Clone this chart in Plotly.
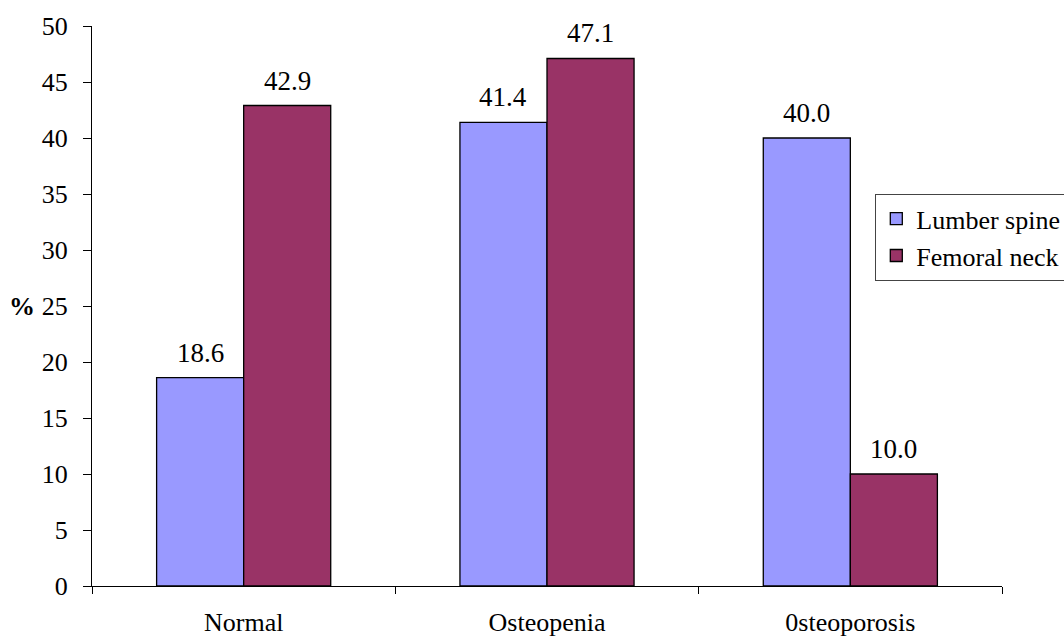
import plotly.graph_objects as go

# Bone density classification by measurement site
categories = ["Normal", "Osteopenia", "0steoporosis"]
lumber_spine = [18.6, 41.4, 40.0]
femoral_neck = [42.9, 47.1, 10.0]
series_names = ["Lumber spine", "Femoral neck"]
series_colors = ["#9999FF", "#993366"]
y_ticks = [0, 5, 10, 15, 20, 25, 30, 35, 40, 45, 50]

W, H = 1064, 638
M_L, M_R, M_T, M_B = 92, 62, 26, 52
BARGAP = 0.426
FONT = "Liberation Serif"
FS = 26

fig = go.Figure()
for name, vals, col in zip(series_names, [lumber_spine, femoral_neck], series_colors):
    fig.add_trace(go.Bar(
        name=name, x=categories, y=vals,
        marker=dict(color=col, line=dict(color="#000000", width=1.3)),
    ))

# value labels centred above each bar
plot_w = W - M_L - M_R
plot_h = H - M_T - M_B
bar_w = plot_w / len(categories) * (1 - BARGAP) / 2
for k, vals in enumerate([lumber_spine, femoral_neck]):
    dx = (k - 0.5) * bar_w
    for c, v in zip(categories, vals):
        fig.add_annotation(
            x=c, y=v, text=f"{v:.1f}", showarrow=False,
            xshift=dx, yshift=25, yanchor="middle", xanchor="center",
            font=dict(family=FONT, size=27, color="#000"),
        )

# "%" axis label drawn horizontally beside the y axis
fig.add_annotation(
    xref="paper", yref="paper", x=-0.06, y=0.5, text="<b>%</b>",
    showarrow=False, xanchor="right", yanchor="middle",
    font=dict(family=FONT, size=FS, color="#000"),
)

fig.update_layout(
    width=W, height=H,
    margin=dict(l=M_L, r=M_R, t=M_T, b=M_B, autoexpand=False),
    paper_bgcolor="white", plot_bgcolor="white",
    barmode="group", bargap=BARGAP, bargroupgap=0,
    font=dict(family=FONT, size=FS, color="#000"),
    showlegend=True,
    legend=dict(
        x=(875 - M_L) / plot_w, y=(H - M_B - 194) / plot_h,
        xanchor="left", yanchor="top",
        bordercolor="#444", borderwidth=1.3, bgcolor="white",
        font=dict(family=FONT, size=FS, color="#000"),
        tracegroupgap=0, itemwidth=30,
    ),
    xaxis=dict(
        showline=True, linecolor="#000", linewidth=1,
        ticks="outside", tickson="boundaries", ticklen=7, tickcolor="#000",
        ticklabelstandoff=13, showgrid=False, zeroline=False,
    ),
    yaxis=dict(
        range=[0, 50], tickvals=y_ticks,
        showline=True, linecolor="#000", linewidth=1,
        ticks="outside", ticklen=8, tickcolor="#000",
        ticklabelstandoff=10, showgrid=False, zeroline=False,
    ),
)

fig.write_html("out.html")
